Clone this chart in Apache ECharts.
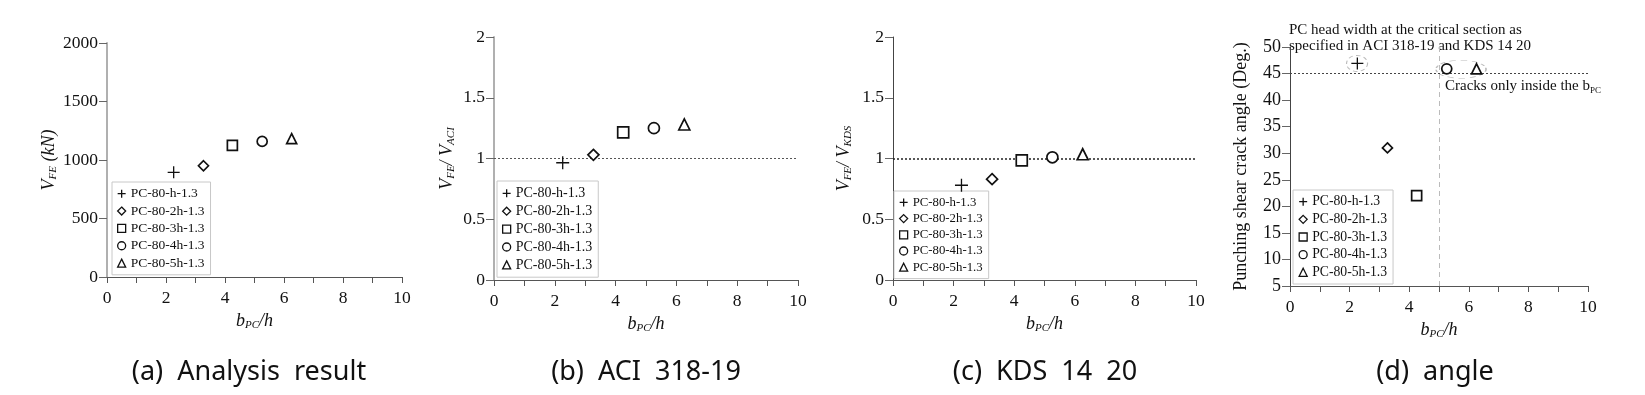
<!DOCTYPE html>
<html><head><meta charset="utf-8">
<script src="https://cdn.jsdelivr.net/npm/echarts@6/dist/echarts.min.js"></script>
<style>html,body{margin:0;padding:0;background:#fff}#c{width:1645px;height:395px}</style>
</head><body><div id="c"></div>
<script>
// ---- data ----
const names = ['PC-80-h-1.3','PC-80-2h-1.3','PC-80-3h-1.3','PC-80-4h-1.3','PC-80-5h-1.3'];
const bpc = [2.26, 3.27, 4.25, 5.26, 6.26];
const vFE = [895, 951, 1125, 1159, 1183];
const ratioACI = [0.965, 1.03, 1.215, 1.25, 1.28];
const ratioKDS = [0.78, 0.83, 0.985, 1.01, 1.035];
const crackAngle = [46.9, 31, 22, 45.9, 45.9];
const xTicks = [0, 2, 4, 6, 8, 10];
const yTicksA = [0, 500, 1000, 1500, 2000];
const yTicksB = [0, 0.5, 1, 1.5, 2];
const yTicksC = [0, 0.5, 1, 1.5, 2];
const yTicksD = [5, 10, 15, 20, 25, 30, 35, 40, 45, 50];
const refRatio = 1;
const refAngle = 45;
const refBpc = 5;
// dashed ellipses (center x, center y) around highlighted points in (d)
const ellipseCenters = [[2.25, 46.9], [5.74, 45.8]];
const captions = ['(a)  Analysis  result', '(b)  ACI  318-19', '(c)  KDS  14  20', '(d)  angle'];

const SERIF = 'Liberation Serif';
const plusPath = 'path://M0,5L10,5M5,0L5,10';
const symbols = [plusPath, 'diamond', 'rect', 'circle', 'triangle'];

const grids = [
  {left:107, top:43, width:295, height:234},
  {left:494, top:37, width:304, height:243},
  {left:893, top:37, width:303, height:243},
  {left:1290, top:47, width:298, height:239}
];
const yData = [vFE, ratioACI, ratioKDS, crackAngle];
const yTicks = [yTicksA, yTicksB, yTicksC, yTicksD];
const yAxisColor = ['#b0b0b0', '#b0b0b0', '#444', '#444'];
const yAxisWidth = [2, 2, 1, 1];
const yNameGap = [47, 37, 39, 40];
const yTickFont = [17.5, 17.5, 17.5, 18];
const symSize = [10, 11, 11, 10];

const subRich = {
  v: {fontFamily: SERIF, fontStyle: 'italic', fontSize: 18, color: '#111', lineHeight: 20},
  s: {fontFamily: SERIF, fontStyle: 'italic', fontSize: 11, color: '#111', verticalAlign: 'bottom', lineHeight: 11}
};
const yNames = [
  '{v|V}{s|FE}{v| (kN)}',
  '{v|V}{s|FE}{v|/ V}{s|ACI}',
  '{v|V}{s|FE}{v|/ V}{s|KDS}',
  'Punching shear crack angle (Deg.)'
];

const xAxes = grids.map((g, i) => ({
  type: 'value', gridIndex: i, min: xTicks[0], max: xTicks[xTicks.length - 1], interval: 1,
  axisLine: {show: true, onZero: false, lineStyle: {color: '#555', width: 1}},
  axisTick: {show: true, length: 6, lineStyle: {color: '#555'}},
  axisLabel: {margin: 12, fontFamily: SERIF, fontSize: 17.5, color: '#111',
    formatter: v => (xTicks.indexOf(v) >= 0 ? String(v) : '')},
  splitLine: {show: false},
  name: '{v|b}{s|PC}{v|/h}', nameLocation: 'middle', nameGap: 19,
  nameTextStyle: {rich: subRich}
}));

const yAxes = grids.map((g, i) => {
  const t = yTicks[i];
  return {
    type: 'value', gridIndex: i, min: t[0], max: t[t.length - 1], interval: t[1] - t[0],
    axisLine: {show: true, onZero: false, lineStyle: {color: yAxisColor[i], width: yAxisWidth[i]}},
    axisTick: {show: true, length: 8, lineStyle: {color: '#666'}},
    axisLabel: {margin: 9, fontFamily: SERIF, fontSize: yTickFont[i], color: '#111',
      formatter: v => String(v)},
    splitLine: {show: false},
    name: yNames[i], nameLocation: 'middle', nameGap: yNameGap[i], nameRotate: 90,
    nameTextStyle: i === 3 ? {fontFamily: SERIF, fontSize: 18, color: '#111'} : {rich: subRich}
  };
});

const series = [];
grids.forEach((g, p) => {
  names.forEach((n, i) => {
    series.push({
      type: 'scatter', name: n, xAxisIndex: p, yAxisIndex: p,
      symbol: symbols[i], symbolSize: i === 0 ? symSize[p] + 2 : symSize[p],
      itemStyle: {color: '#fff', borderColor: '#111', borderWidth: i === 0 ? 1.3 : 1.7, opacity: 1},
      data: [[bpc[i], yData[p][i]]],
      z: 5
    });
  });
});
// reference lines
const dotLine = (p, color, width) => ({
  type: 'scatter', name: 'ref' + p, xAxisIndex: p, yAxisIndex: p, data: [], z: 3,
  markLine: {silent: true, symbol: 'none', label: {show: false},
    lineStyle: {color: color, width: width, type: [2, 2]},
    data: p === 3 ? [{yAxis: refAngle}] : [{yAxis: refRatio}]}
});
series.push(dotLine(1, '#555', 1.2));
series.push(dotLine(2, '#222', 1.5));
series.push(dotLine(3, '#444', 1.1));
series.push({
  type: 'scatter', name: 'refv', xAxisIndex: 3, yAxisIndex: 3, data: [], z: 2,
  markLine: {silent: true, symbol: 'none', label: {show: false},
    lineStyle: {color: '#bbb', width: 1, type: [5, 4]}, data: [{xAxis: refBpc}]}
});
series.push({
  type: 'scatter', name: 'ellipse', xAxisIndex: 3, yAxisIndex: 3, silent: true, z: 4,
  symbol: 'circle',
  data: [{value: ellipseCenters[0], symbolSize: [21, 16]}, {value: ellipseCenters[1], symbolSize: [50, 18]}],
  itemStyle: {color: 'rgba(0,0,0,0)', borderColor: '#aaa', borderWidth: 1, borderType: [4, 3]}
});

const legendCfg = [
  {left: 112, top: 182, fs: 13.5, lh: 14, gap: 3.35, pad: [4.7, 6, 4.7, 5]},
  {left: 497, top: 181, fs: 14, lh: 14, gap: 3.9, pad: [5.3, 6, 5.3, 5]},
  {left: 894, top: 191, fs: 12.8, lh: 13, gap: 3.2, pad: [4.9, 6, 4.9, 5]},
  {left: 1293, top: 190, fs: 13.7, lh: 14, gap: 3.65, pad: [4.7, 6, 4.7, 5.5]}
];
const legends = legendCfg.map(c => ({
  orient: 'vertical', left: c.left, top: c.top, data: names.slice(),
  itemWidth: 8, itemHeight: 8, itemGap: c.gap, padding: c.pad,
  borderColor: '#c8c8c8', borderWidth: 1, selectedMode: false,
  itemStyle: {color: '#fff', borderColor: '#111', borderWidth: 1.3},
  textStyle: {fontFamily: SERIF, fontSize: c.fs, color: '#111', lineHeight: c.lh}
}));

const captionX = [244, 641, 1040, 1430];
const titles = captions.map((t, i) => ({
  text: t, left: captionX[i], top: 352, textAlign: 'center',
  textStyle: {fontFamily: 'Noto Sans', fontSize: 27, lineHeight: 30, fontWeight: 'normal', color: '#111'}
}));

const chart = echarts.init(document.getElementById('c'), null, {renderer: 'canvas'});
chart.setOption({
  animation: false,
  backgroundColor: '#fff',
  title: titles,
  grid: grids,
  xAxis: xAxes,
  yAxis: yAxes,
  legend: legends,
  series: series,
  graphic: [
    {type: 'text', left: 1289, top: 22, silent: true,
      style: {text: 'PC head width at the critical section as\nspecified in ACI 318-19 and KDS 14 20',
        font: '15px "Liberation Serif"', fill: '#111', lineHeight: 16}},
    {type: 'text', left: 1445, top: 79, silent: true,
      style: {text: '{n|Cracks only inside the b}{s|PC}',
        rich: {n: {fontFamily: SERIF, fontSize: 15, fill: '#111', lineHeight: 17},
               s: {fontFamily: SERIF, fontSize: 9, fill: '#111', verticalAlign: 'bottom', lineHeight: 10}}}}
  ]
});
</script></body></html>
